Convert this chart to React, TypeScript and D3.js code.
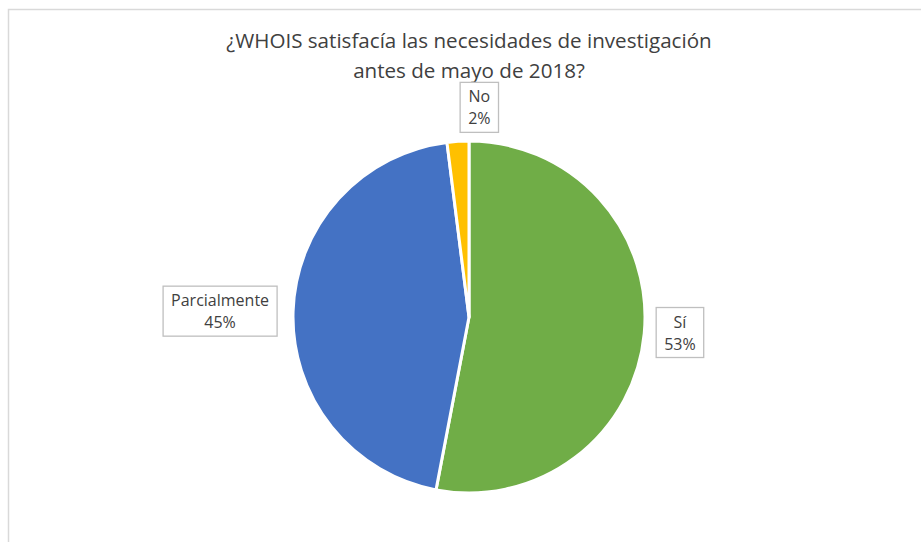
import React, { useEffect, useRef } from "react";
import * as d3 from "d3";

const categories = ["Sí", "Parcialmente", "No"];
const values = [53, 45, 2];
const colors = ["#70AD47", "#4472C4", "#FFC000"];
const titleLines = ["¿WHOIS satisfacía las necesidades de investigación", "antes de mayo de 2018?"];

const W = 921;
const H = 542;
const CX = 469;
const CY = 317;
const R = 176;
const FONT = "'Open Sans', 'Noto Sans', sans-serif";

// label nudges (styling only)
const labelNudge: Record<string, [number, number]> = {
  "Sí": [2, -2],
  "Parcialmente": [-6, 0],
  "No": [22, 1],
};

export default function App() {
  const ref = useRef<SVGSVGElement | null>(null);

  useEffect(() => {
    const svg = d3.select(ref.current);
    svg.selectAll("*").remove();

    svg.append("rect").attr("x", 0).attr("y", 0).attr("width", W).attr("height", H).attr("fill", "#fff");
    svg.append("rect")
      .attr("x", 8.5).attr("y", 9.5).attr("width", 1000).attr("height", 700)
      .attr("fill", "#fff").attr("stroke", "#d9d9d9").attr("stroke-width", 1.5);

    const title = svg.append("text")
      .attr("text-anchor", "middle")
      .attr("font-family", FONT)
      .attr("font-size", 20.6)
      .attr("fill", "#404040");
    titleLines.forEach((t, i) => {
      title.append("tspan").attr("x", CX).attr("y", 48 + i * 30).text(t);
    });

    const data = categories.map((c, i) => ({ c, v: values[i], col: colors[i] }));
    const pie = d3.pie<any>().value((d: any) => d.v).sort(null);
    const arcs = pie(data);
    const arc = d3.arc<any>().innerRadius(0).outerRadius(R);

    const g = svg.append("g").attr("transform", `translate(${CX},${CY})`);
    g.selectAll("path.slice")
      .data(arcs)
      .join("path")
      .attr("class", "slice")
      .attr("d", arc as any)
      .attr("fill", (d: any) => d.data.col)
      .attr("stroke", "#fff")
      .attr("stroke-width", 3)
      .attr("stroke-linejoin", "round");

    arcs.forEach((a: any) => {
      const mid = (a.startAngle + a.endAngle) / 2;
      const sx = Math.sin(mid);
      const sy = -Math.cos(mid);
      const lines = [a.data.c, `${a.data.v}%`];
      const lg = svg.append("g");
      const txt = lg.append("text")
        .attr("text-anchor", "middle")
        .attr("font-family", FONT)
        .attr("font-size", 16)
        .attr("fill", "#404040");
      lines.forEach((t, i) => {
        txt.append("tspan").attr("x", 0).attr("y", i * 22).text(t);
      });
      const bb = (txt.node() as SVGTextElement).getBBox();
      const padX = 8;
      const padY = 3;
      const bw = bb.width + padX * 2;
      const bh = bb.height + padY * 2;
      const off = R + 10;
      let x = CX + off * sx;
      let y = CY + off * sy;
      if (Math.abs(sx) > 0.4) x += Math.sign(sx) * bw / 2;
      if (Math.abs(sy) > 0.4) y += Math.sign(sy) * bh / 2;
      const nudge = labelNudge[a.data.c] || [0, 0];
      x += nudge[0];
      y += nudge[1];
      lg.insert("rect", "text")
        .attr("x", bb.x - padX)
        .attr("y", bb.y - padY)
        .attr("width", bw)
        .attr("height", bh)
        .attr("fill", "#fff")
        .attr("stroke", "#bfbfbf")
        .attr("stroke-width", 1.3);
      const cyb = bb.y + bb.height / 2;
      lg.attr("transform", `translate(${x},${y - cyb})`);
    });
  }, []);

  return (
    <svg
      ref={ref}
      width={W}
      height={H}
      style={{ position: "absolute", left: 0, top: 0, display: "block" }}
    />
  );
}
